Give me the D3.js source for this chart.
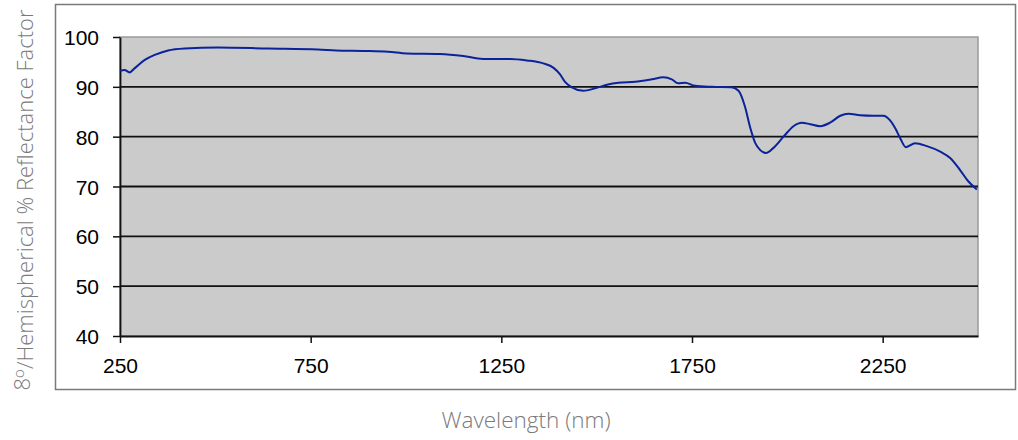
<!DOCTYPE html>
<html>
<head>
<meta charset="utf-8">
<script src="https://cdn.jsdelivr.net/npm/d3@7"></script>
<style>
  body { margin: 0; background: #fff; }
  svg { display: block; }
</style>
</head>
<body>
<script>
// Data
const wavelength = [250, 262, 275, 288, 315, 341, 376, 420, 507, 638, 769, 817, 887, 953, 1002,
  1089, 1150, 1202, 1273, 1317, 1360, 1387, 1404, 1417, 1435, 1465, 1496, 1527, 1557, 1601,
  1645, 1675, 1697, 1714, 1732, 1758, 1802, 1854, 1872, 1889, 1902, 1916, 1929, 1944, 1963,
  1990, 2016, 2038, 2060, 2086, 2112, 2139, 2160, 2191, 2226, 2252, 2270, 2283, 2296, 2311,
  2335, 2366, 2401, 2427, 2453, 2475, 2497]
const reflectance = [93.2, 93.4, 92.9, 93.7, 95.4, 96.4, 97.3, 97.7, 97.9, 97.7, 97.5, 97.3, 97.2, 97.05, 96.7,
  96.6, 96.2, 95.6, 95.6, 95.3, 94.7, 93.8, 92.5, 91.0, 89.9, 89.2, 89.7, 90.4, 90.8, 91.0,
  91.5, 91.9, 91.5, 90.7, 90.8, 90.2, 90.0, 89.9, 89.2, 86.0, 82.0, 78.7, 77.3, 76.7, 77.7,
  80.0, 82.1, 82.8, 82.5, 82.1, 82.8, 84.2, 84.6, 84.3, 84.2, 84.2, 83.2, 81.7, 79.7, 77.9,
  78.7, 78.1, 77.0, 75.7, 73.3, 71.0, 69.4]

const xTicks = [250, 750, 1250, 1750, 2250]
const yTicks = [40, 50, 60, 70, 80, 90, 100]

const width = 1018
const height = 440
const margin = { top: 37, right: 40, bottom: 104, left: 120 }

const svg = d3.select('body')
  .append('svg')
  .attr('width', width)
  .attr('height', height)

// outer frame
svg.append('rect')
  .attr('x', 55.5)
  .attr('y', 4.5)
  .attr('width', 960)
  .attr('height', 385)
  .attr('fill', 'none')
  .attr('stroke', '#7a7a7a')
  .attr('stroke-width', 1.5)

const x = d3.scaleLinear()
  .domain([250, 2500])
  .range([margin.left, width - margin.right])

const y = d3.scaleLinear()
  .domain([40, 100])
  .range([height - margin.bottom, margin.top])

// plot background
svg.append('rect')
  .attr('x', x(250))
  .attr('y', y(100))
  .attr('width', x(2500) - x(250))
  .attr('height', y(40) - y(100))
  .attr('fill', '#cbcbcb')
  .attr('stroke', '#9a9a9a')
  .attr('stroke-width', 1.5)

// gridlines
svg.append('g')
  .selectAll('line')
  .data(yTicks.filter(d => d > 40 && d < 100))
  .join('line')
  .attr('x1', x(250))
  .attr('x2', x(2500))
  .attr('y1', d => y(d))
  .attr('y2', d => y(d))
  .attr('stroke', '#111')
  .attr('stroke-width', 1.8)

// axes
const xAxis = d3.axisBottom(x)
  .tickValues(xTicks)
  .tickSizeInner(7)
  .tickSizeOuter(0)
  .tickPadding(15)
  .tickFormat(d3.format('d'))

const yAxis = d3.axisLeft(y)
  .tickValues(yTicks)
  .tickSizeInner(7)
  .tickSizeOuter(0)
  .tickPadding(14)
  .tickFormat(d3.format('d'))

const gx = svg.append('g')
  .attr('transform', `translate(0,${y(40)})`)
  .call(xAxis)

const gy = svg.append('g')
  .attr('transform', `translate(${x(250)},0)`)
  .call(yAxis)

for (const g of [gx, gy]) {
  g.select('.domain').attr('stroke', '#111').attr('stroke-width', 1.8)
  g.selectAll('.tick line').attr('stroke', '#111').attr('stroke-width', 1.5)
  g.selectAll('.tick text')
    .attr('fill', '#000')
    .style('font-family', '"Liberation Sans", Arial, sans-serif')
    .style('font-size', '21px')
}
gy.selectAll('.tick text').attr('dy', '0.36em')

// spectrum line
const points = wavelength.map((w, i) => [w, reflectance[i]])
const line = d3.line()
  .x(d => x(d[0]))
  .y(d => y(d[1]))
  .curve(d3.curveMonotoneX)

svg.append('path')
  .datum(points)
  .attr('d', line)
  .attr('fill', 'none')
  .attr('stroke', '#0a239b')
  .attr('stroke-width', 2)

// axis titles
svg.append('text')
  .attr('x', 526)
  .attr('y', 428)
  .attr('text-anchor', 'middle')
  .attr('fill', '#7a7a7a')
  .style('font-family', '"Open Sans", sans-serif')
  .style('font-weight', 300)
  .style('font-size', '22.5px')
  .text('Wavelength (nm)')

const yTitle = svg.append('text')
  .attr('transform', 'translate(30,200) rotate(-90)')
  .attr('text-anchor', 'middle')
  .attr('fill', '#7a7a7a')
  .style('font-family', '"Open Sans", sans-serif')
  .style('font-weight', 300)
  .style('font-size', '22px')
yTitle.append('tspan').text('8')
yTitle.append('tspan').attr('dy', '-0.4em').style('font-size', '15px').text('o')
yTitle.append('tspan').attr('dy', '0.4em').text('/Hemispherical % Reflectance Factor')
</script>
</body>
</html>
